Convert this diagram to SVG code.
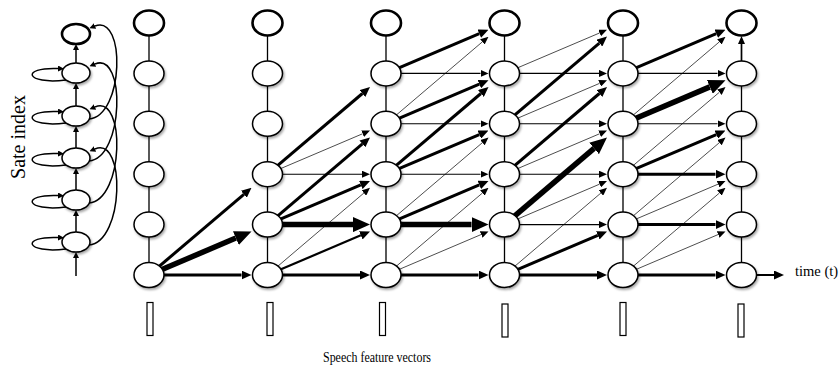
<svg xmlns="http://www.w3.org/2000/svg" width="840" height="370" viewBox="0 0 840 370">
  <style>
    .node ellipse { fill: #fff; stroke: #000; stroke-width: 1.5; filter: url(#sh); }
    .node.top ellipse { stroke-width: 2.6; filter: none; }
    .chain ellipse { fill: #fff; stroke: #000; stroke-width: 1.5; filter: url(#sh); }
    .chain.top ellipse { stroke-width: 2.6; filter: none; }
    #connectors path { fill: none; stroke: #000; }
    .v { stroke-width: 1.3; }
    .c-t { stroke-width: 0.7; marker-end: url(#hs); }
    .c-h { stroke-width: 1.1; marker-end: url(#hs); }
    .c-m { stroke-width: 2.2; marker-end: url(#hm); }
    .c-k { stroke-width: 3; marker-end: url(#hm); }
    .c-x { stroke-width: 5.5; marker-end: url(#hl); }
    .c-c { stroke-width: 1.5; marker-end: url(#hc); }
    .lbl { font-family: "Liberation Serif", "Times New Roman", serif; fill: #000; }
    .fv { fill: #fff; stroke: #000; stroke-width: 1.2; }
  </style>
  <defs>
    <filter id="sh" x="-40%" y="-40%" width="190%" height="200%">
      <feDropShadow dx="1.2" dy="1.8" stdDeviation="1.2" flood-color="#000" flood-opacity="0.35"/>
    </filter>
    <!-- arrowheads start at the path end and point forward -->
    <marker id="hs" markerUnits="userSpaceOnUse" markerWidth="8" markerHeight="7" refX="0" refY="3.5" orient="auto">
      <path d="M0,0 L8,3.5 L0,7 z" fill="#000"/>
    </marker>
    <marker id="hm" markerUnits="userSpaceOnUse" markerWidth="10" markerHeight="9" refX="0" refY="4.5" orient="auto">
      <path d="M0,0 L10,4.5 L0,9 z" fill="#000"/>
    </marker>
    <marker id="hl" markerUnits="userSpaceOnUse" markerWidth="17" markerHeight="15" refX="0" refY="7.5" orient="auto">
      <path d="M0,0 L17,7.5 L0,15 z" fill="#000"/>
    </marker>
    <marker id="hc" markerUnits="userSpaceOnUse" markerWidth="6" markerHeight="6" refX="0" refY="3" orient="auto">
      <path d="M0,0 L6,3 L0,6 z" fill="#000"/>
    </marker>
  </defs>

  <rect width="840" height="370" fill="#fff"/>

  <g id="connectors">
    <!-- left-to-right HMM chain -->
    <path class="c-c" d="M76,276 V258"/>
    <path class="c-c" d="M76,232 V216"/>
    <path class="c-c" d="M76,190 V174"/>
    <path class="c-c" d="M76,148 V132"/>
    <path class="c-c" d="M76,106 V89"/>
    <path class="c-c" d="M76,63 V50"/>
    <!-- self loops -->
    <path class="c-c" d="M66,249 C25,254 20,236 58,237.5"/>
    <path class="c-c" d="M66,207 C25,212 20,194 58,195.5"/>
    <path class="c-c" d="M66,165 C25,170 20,152 58,153.5"/>
    <path class="c-c" d="M66,123 C25,128 20,110 58,111.5"/>
    <path class="c-c" d="M66,80 C25,85 20,67 58,68.5"/>
    <!-- skip transitions -->
    <path class="c-c" d="M89,245 C124,242 126,136 95,149"/>
    <path class="c-c" d="M89,203 C124,200 126,94 95,107"/>
    <path class="c-c" d="M89,161 C124,158 126,51 95,64"/>
    <path class="c-c" d="M89,119 C124,116 126,14 95,26"/>

    <!-- trellis columns -->
    <path class="v" d="M149,275V23 M267.5,275V23 M386,275V23 M504.5,275V23 M623,275V23 M741.5,275V73.4"/>
    <path class="c-h" d="M741.5,73.4 V44" style="stroke-width:1.7"/>

    <!-- t0 -> t1 -->
    <path class="c-k" d="M149,275 L241.5,275"/>
    <path class="c-x" d="M149,275 L235.86,238.07"/>
    <path class="c-k" d="M149,275 L243.89,194.3"/>

    <!-- t1 -> t2 -->
    <path class="c-k" d="M267.5,275 L360,275"/>
    <path class="c-m" d="M267.5,275 L360.8,235.33"/>
    <path class="c-t" d="M267.5,275 L363.91,193.01"/>
    <path class="c-x" d="M267.5,224.6 L353,224.6"/>
    <path class="c-k" d="M267.5,224.6 L360.8,184.93"/>
    <path class="c-k" d="M267.5,224.6 L362.39,143.9"/>
    <path class="c-h" d="M267.5,174.2 L362,174.2"/>
    <path class="c-t" d="M267.5,174.2 L362.64,133.74"/>
    <path class="c-k" d="M267.5,174.2 L362.39,93.5"/>

    <!-- t2 -> t3 -->
    <path class="c-k" d="M386,275 L478.5,275"/>
    <path class="c-t" d="M386,275 L481.14,234.54"/>
    <path class="c-t" d="M386,275 L482.41,193.01"/>
    <path class="c-x" d="M386,224.6 L471.5,224.6"/>
    <path class="c-k" d="M386,224.6 L479.3,184.93"/>
    <path class="c-t" d="M386,224.6 L482.41,142.61"/>
    <path class="c-h" d="M386,174.2 L480.5,174.2"/>
    <path class="c-k" d="M386,174.2 L479.3,134.53"/>
    <path class="c-k" d="M386,174.2 L480.89,93.5"/>
    <path class="c-h" d="M386,123.8 L480.5,123.8"/>
    <path class="c-k" d="M386,123.8 L479.3,84.13"/>
    <path class="c-t" d="M386,123.8 L482.41,41.81"/>
    <path class="c-h" d="M386,73.4 L480.5,73.4"/>
    <path class="c-k" d="M386,73.4 L479.3,33.73"/>

    <!-- t3 -> t4 -->
    <path class="c-k" d="M504.5,275 L597,275"/>
    <path class="c-k" d="M504.5,275 L597.8,235.33"/>
    <path class="c-t" d="M504.5,275 L600.91,193.01"/>
    <path class="c-h" d="M504.5,224.6 L599,224.6"/>
    <path class="c-t" d="M504.5,224.6 L599.64,184.14"/>
    <path class="c-x" d="M504.5,224.6 L594.06,148.44"/>
    <path class="c-h" d="M504.5,174.2 L599,174.2"/>
    <path class="c-t" d="M504.5,174.2 L599.64,133.74"/>
    <path class="c-k" d="M504.5,174.2 L599.39,93.5"/>
    <path class="c-h" d="M504.5,123.8 L599,123.8"/>
    <path class="c-t" d="M504.5,123.8 L599.64,83.34"/>
    <path class="c-k" d="M504.5,123.8 L599.39,43.1"/>
    <path class="c-h" d="M504.5,73.4 L599,73.4"/>
    <path class="c-t" d="M504.5,73.4 L599.64,32.94"/>

    <!-- t4 -> t5 -->
    <path class="c-k" d="M623,275 L715.5,275"/>
    <path class="c-t" d="M623,275 L718.14,234.54"/>
    <path class="c-t" d="M623,275 L719.41,193.01"/>
    <path class="c-k" d="M623,224.6 L715.5,224.6"/>
    <path class="c-t" d="M623,224.6 L718.14,184.14"/>
    <path class="c-t" d="M623,224.6 L719.41,142.61"/>
    <path class="c-k" d="M623,174.2 L715.5,174.2"/>
    <path class="c-k" d="M623,174.2 L716.3,134.53"/>
    <path class="c-t" d="M623,174.2 L719.41,92.21"/>
    <path class="c-h" d="M623,123.8 L717.5,123.8"/>
    <path class="c-x" d="M623,123.8 L709.86,86.87"/>
    <path class="c-t" d="M623,123.8 L719.41,41.81"/>
    <path class="c-h" d="M623,73.4 L717.5,73.4"/>
    <path class="c-k" d="M623,73.4 L716.3,33.73"/>

    <!-- time axis -->
    <path class="c-m" d="M741.5,275 L774,275"/>
  </g>

  <!-- state chain -->
  <g id="s0" class="chain"><ellipse cx="76" cy="242" rx="14" ry="10"/></g>
  <g id="s1" class="chain"><ellipse cx="76" cy="200" rx="14" ry="10"/></g>
  <g id="s2" class="chain"><ellipse cx="76" cy="158" rx="14" ry="10"/></g>
  <g id="s3" class="chain"><ellipse cx="76" cy="116" rx="14" ry="10"/></g>
  <g id="s4" class="chain"><ellipse cx="76" cy="73" rx="14" ry="10"/></g>
  <g id="s5" class="chain top"><ellipse cx="76" cy="34" rx="14" ry="10"/></g>

  <!-- trellis nodes: column t, row r -->
  <g id="t0r0" class="node"><ellipse cx="149" cy="275" rx="15" ry="12.5"/></g>
  <g id="t0r1" class="node"><ellipse cx="149" cy="224.6" rx="15" ry="12.5"/></g>
  <g id="t0r2" class="node"><ellipse cx="149" cy="174.2" rx="15" ry="12.5"/></g>
  <g id="t0r3" class="node"><ellipse cx="149" cy="123.8" rx="15" ry="12.5"/></g>
  <g id="t0r4" class="node"><ellipse cx="149" cy="73.4" rx="15" ry="12.5"/></g>
  <g id="t0r5" class="node top"><ellipse cx="149" cy="23" rx="15" ry="12.5"/></g>

  <g id="t1r0" class="node"><ellipse cx="267.5" cy="275" rx="15" ry="12.5"/></g>
  <g id="t1r1" class="node"><ellipse cx="267.5" cy="224.6" rx="15" ry="12.5"/></g>
  <g id="t1r2" class="node"><ellipse cx="267.5" cy="174.2" rx="15" ry="12.5"/></g>
  <g id="t1r3" class="node"><ellipse cx="267.5" cy="123.8" rx="15" ry="12.5"/></g>
  <g id="t1r4" class="node"><ellipse cx="267.5" cy="73.4" rx="15" ry="12.5"/></g>
  <g id="t1r5" class="node top"><ellipse cx="267.5" cy="23" rx="15" ry="12.5"/></g>

  <g id="t2r0" class="node"><ellipse cx="386" cy="275" rx="15" ry="12.5"/></g>
  <g id="t2r1" class="node"><ellipse cx="386" cy="224.6" rx="15" ry="12.5"/></g>
  <g id="t2r2" class="node"><ellipse cx="386" cy="174.2" rx="15" ry="12.5"/></g>
  <g id="t2r3" class="node"><ellipse cx="386" cy="123.8" rx="15" ry="12.5"/></g>
  <g id="t2r4" class="node"><ellipse cx="386" cy="73.4" rx="15" ry="12.5"/></g>
  <g id="t2r5" class="node top"><ellipse cx="386" cy="23" rx="15" ry="12.5"/></g>

  <g id="t3r0" class="node"><ellipse cx="504.5" cy="275" rx="15" ry="12.5"/></g>
  <g id="t3r1" class="node"><ellipse cx="504.5" cy="224.6" rx="15" ry="12.5"/></g>
  <g id="t3r2" class="node"><ellipse cx="504.5" cy="174.2" rx="15" ry="12.5"/></g>
  <g id="t3r3" class="node"><ellipse cx="504.5" cy="123.8" rx="15" ry="12.5"/></g>
  <g id="t3r4" class="node"><ellipse cx="504.5" cy="73.4" rx="15" ry="12.5"/></g>
  <g id="t3r5" class="node top"><ellipse cx="504.5" cy="23" rx="15" ry="12.5"/></g>

  <g id="t4r0" class="node"><ellipse cx="623" cy="275" rx="15" ry="12.5"/></g>
  <g id="t4r1" class="node"><ellipse cx="623" cy="224.6" rx="15" ry="12.5"/></g>
  <g id="t4r2" class="node"><ellipse cx="623" cy="174.2" rx="15" ry="12.5"/></g>
  <g id="t4r3" class="node"><ellipse cx="623" cy="123.8" rx="15" ry="12.5"/></g>
  <g id="t4r4" class="node"><ellipse cx="623" cy="73.4" rx="15" ry="12.5"/></g>
  <g id="t4r5" class="node top"><ellipse cx="623" cy="23" rx="15" ry="12.5"/></g>

  <g id="t5r0" class="node"><ellipse cx="741.5" cy="275" rx="15" ry="12.5"/></g>
  <g id="t5r1" class="node"><ellipse cx="741.5" cy="224.6" rx="15" ry="12.5"/></g>
  <g id="t5r2" class="node"><ellipse cx="741.5" cy="174.2" rx="15" ry="12.5"/></g>
  <g id="t5r3" class="node"><ellipse cx="741.5" cy="123.8" rx="15" ry="12.5"/></g>
  <g id="t5r4" class="node"><ellipse cx="741.5" cy="73.4" rx="15" ry="12.5"/></g>
  <g id="t5r5" class="node top"><ellipse cx="741.5" cy="23" rx="15" ry="12.5"/></g>

  <!-- observation vectors -->
  <g id="features">
    <rect class="fv" x="147" y="302.5" width="6" height="33"/>
    <rect class="fv" x="267" y="302.5" width="6" height="33"/>
    <rect class="fv" x="379.5" y="302.5" width="6" height="33"/>
    <rect class="fv" x="502" y="304" width="6" height="33"/>
    <rect class="fv" x="620" y="302.5" width="6" height="33"/>
    <rect class="fv" x="738" y="304" width="6" height="33"/>
  </g>

  <g id="labels">
    <text class="lbl" transform="translate(25,137) rotate(-90)" text-anchor="middle" font-size="20">Sate index</text>
    <text class="lbl" x="795" y="276" font-size="14.5">time (t)</text>
    <text class="lbl" x="377" y="362" text-anchor="middle" font-size="14" textLength="108" lengthAdjust="spacingAndGlyphs">Speech feature vectors</text>
  </g>
</svg>
